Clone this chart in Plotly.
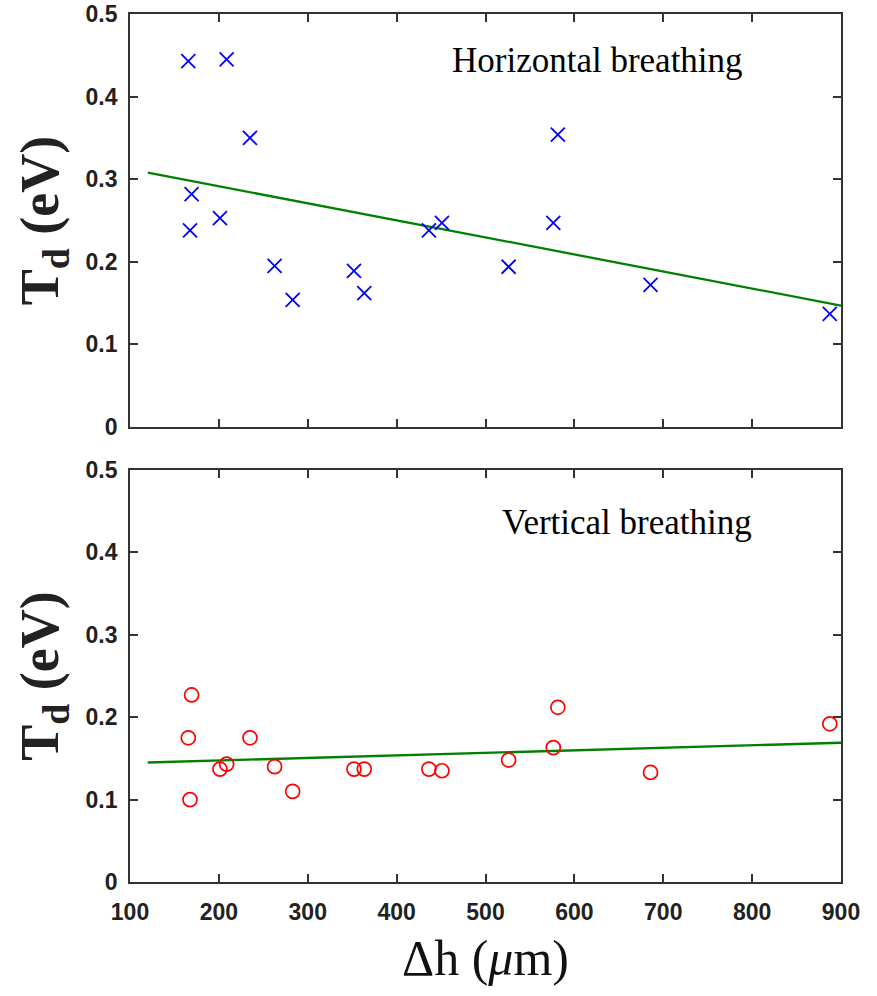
import plotly.graph_objects as go
from plotly.subplots import make_subplots

# Data
dh = [165.6, 167.5, 169.3, 201.2, 208.7, 235.0, 262.7, 283.0, 352.0, 363.6,
      436.3, 451.0, 526.0, 576.3, 581.4, 685.7, 887.4]
td_horizontal = [0.443, 0.238, 0.282, 0.253, 0.445, 0.350, 0.195, 0.154, 0.189, 0.162,
                 0.238, 0.247, 0.194, 0.247, 0.354, 0.172, 0.137]
td_vertical = [0.175, 0.100, 0.227, 0.137, 0.143, 0.175, 0.140, 0.110, 0.137, 0.137,
               0.137, 0.135, 0.148, 0.163, 0.212, 0.133, 0.192]
fit_x = [120, 900]
fit_horizontal = [0.308, 0.147]
fit_vertical = [0.145, 0.169]
x_ticks = [100, 200, 300, 400, 500, 600, 700, 800, 900]
y_ticks = [0, 0.1, 0.2, 0.3, 0.4, 0.5]
y_ticklabels = ["0", "0.1", "0.2", "0.3", "0.4", "0.5"]

fig = make_subplots(rows=2, cols=1, shared_xaxes=False, vertical_spacing=0.0)

fig.add_trace(go.Scatter(x=fit_x, y=fit_horizontal, mode="lines",
                         line=dict(color="#008000", width=2.3), showlegend=False), row=1, col=1)
fig.add_trace(go.Scatter(x=dh, y=td_horizontal, mode="markers",
                         marker=dict(symbol="x-thin-open", size=14, color="#0000ff",
                                     line=dict(color="#0000ff", width=1.8)),
                         showlegend=False), row=1, col=1)
fig.add_trace(go.Scatter(x=fit_x, y=fit_vertical, mode="lines",
                         line=dict(color="#008000", width=2.3), showlegend=False), row=2, col=1)
fig.add_trace(go.Scatter(x=dh, y=td_vertical, mode="markers",
                         marker=dict(symbol="circle-open", size=14, color="#ff0000",
                                     line=dict(color="#ff0000", width=1.7)),
                         showlegend=False), row=2, col=1)

tickfont = dict(family="Liberation Sans, Arial", size=23, color="#222222", weight="bold")
axis_common = dict(range=[100, 900], tickvals=x_ticks, ticks="inside", ticklen=8,
                   tickcolor="#333333", tickwidth=1.5, showline=True, linecolor="#333333",
                   linewidth=1.8, mirror="ticks", showgrid=False, zeroline=False,
                   tickfont=tickfont)
fig.update_xaxes(**axis_common)
fig.update_xaxes(showticklabels=False, row=1, col=1)
fig.update_xaxes(showticklabels=True, row=2, col=1, ticklabelstandoff=8,
                 title=dict(text="Δh (<i>μ</i>m)",
                            font=dict(family="Liberation Serif, Times New Roman", size=50, color="#111111"),
                            standoff=16))

yaxis_common = dict(range=[0, 0.5], tickvals=y_ticks, ticktext=y_ticklabels, ticks="inside",
                    ticklen=8, tickcolor="#333333", tickwidth=1.5, showline=True,
                    linecolor="#333333", linewidth=1.8, mirror="ticks", showgrid=False,
                    zeroline=False, tickfont=tickfont, ticklabelstandoff=6,
                    title=dict(text="T<sub>d</sub> (eV)",
                               font=dict(family="Liberation Serif, Times New Roman", size=54,
                                         color="#222222", weight="bold"),
                               standoff=10))
fig.update_yaxes(**yaxis_common)

fig.update_layout(
    width=877, height=996,
    margin=dict(l=130, r=36, t=14, b=114, autoexpand=False),
    paper_bgcolor="white", plot_bgcolor="white",
    xaxis=dict(domain=[0, 1]), xaxis2=dict(domain=[0, 1]),
    yaxis=dict(domain=[0.5242, 1.0]), yaxis2=dict(domain=[0.0, 0.4747]),
)

fig.add_annotation(x=626, y=0.444, xref="x", yref="y", text="Horizontal breathing",
                   showarrow=False,
                   font=dict(family="Liberation Serif, Times New Roman", size=35, color="black"))
fig.add_annotation(x=659.6, y=0.436, xref="x2", yref="y2", text="Vertical breathing",
                   showarrow=False,
                   font=dict(family="Liberation Serif, Times New Roman", size=35, color="black"))

fig.write_html("out.html")
